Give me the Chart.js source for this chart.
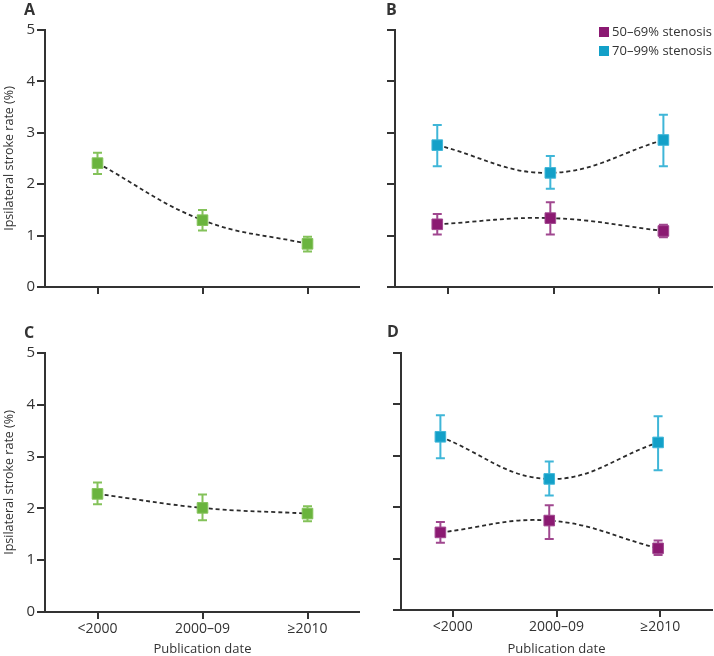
<!DOCTYPE html>
<html lang="en">
<head>
    <meta charset="UTF-8">
    <title>Ipsilateral stroke rate by publication date</title>
    <style>
        body { margin: 0; background: #fff; }
        #wrap { position: relative; width: 714px; height: 656px; font-family: "Open Sans", sans-serif; color: #333; }
        canvas { position: absolute; }
        .letter { position: absolute; font-weight: bold; font-size: 16px; line-height: 16px; }
        .legend { position: absolute; right: 2px; top: 22px; font-size: 13px; line-height: 19px; white-space: nowrap; }
        .legend span { display: inline-block; width: 10px; height: 10px; margin-right: 3px; vertical-align: -1px; }
    </style>
</head>
<body>
<div id="wrap">
    <canvas id="chartA" width="360" height="320" style="left:0;top:0"></canvas>
    <canvas id="chartB" width="354" height="320" style="left:360px;top:0"></canvas>
    <canvas id="chartC" width="360" height="336" style="left:0;top:320px"></canvas>
    <canvas id="chartD" width="354" height="336" style="left:360px;top:320px"></canvas>
    <div class="letter" style="left:24px;top:1px">A</div>
    <div class="letter" style="left:386px;top:1px">B</div>
    <div class="letter" style="left:24px;top:324px">C</div>
    <div class="letter" style="left:387px;top:323px">D</div>
    <div class="legend">
        <div><span style="background:#8b1a72"></span>50–69% stenosis</div>
        <div><span style="background:#13a0c8"></span>70–99% stenosis</div>
    </div>
</div>

<script src="https://cdn.jsdelivr.net/npm/chart.js"></script>
<script>
    // categorias y valores
    const periodos = ['<2000', '2000–09', '≥2010'];

    // A: todos los pacientes
    const tasaA = [2.41, 1.30, 0.84];
    const bajoA = [2.20, 1.10, 0.69];
    const altoA = [2.61, 1.50, 0.98];

    // B: 50-69% y 70-99%
    const xB = [-0.1, 0.97, 2.04];
    const moderadaB = [1.22, 1.34, 1.09];
    const moderadaBajoB = [1.02, 1.02, 0.97];
    const moderadaAltoB = [1.42, 1.65, 1.21];
    const severaB = [2.76, 2.22, 2.86];
    const severaBajoB = [2.35, 1.91, 2.35];
    const severaAltoB = [3.15, 2.55, 3.35];

    // C
    const tasaC = [2.28, 2.01, 1.90];
    const bajoC = [2.08, 1.77, 1.75];
    const altoC = [2.50, 2.27, 2.04];

    // D
    const xD = [-0.12, 0.93, 1.98];
    const moderadaD = [1.51, 1.74, 1.20];
    const moderadaBajoD = [1.31, 1.38, 1.07];
    const moderadaAltoD = [1.71, 2.04, 1.35];
    const severaD = [3.37, 2.55, 3.26];
    const severaBajoD = [2.95, 2.23, 2.72];
    const severaAltoD = [3.79, 2.89, 3.77];

    const verde = '#6ab43e', verdeClaro = '#84c25a';
    const morado = '#8b1a72', moradoClaro = '#a0478f';
    const azul = '#13a0c8', azulClaro = '#3fb6d8';
    const gris = '#333';

    function serie(xs, ys, lo, hi, color, claro) {
        return {
            data: ys.map((y, i) => ({ x: xs[i], y: y })),
            lo: lo, hi: hi, barColor: claro,
            showLine: true,
            tension: 0.4,
            borderColor: '#2b2b2b',
            borderWidth: 1.8,
            borderDash: [4, 3],
            pointStyle: 'rect',
            pointRadius: 7.5,
            pointBackgroundColor: color,
            pointBorderColor: claro,
            pointBorderWidth: 1
        };
    }

    // barras de error dibujadas con las escalas del grafico
    const barrasError = {
        id: 'barrasError',
        beforeDatasetsDraw(chart) {
            const c = chart.ctx;
            const sx = chart.scales.x, sy = chart.scales.y;
            chart.data.datasets.forEach(ds => {
                c.save();
                c.strokeStyle = ds.barColor;
                c.lineWidth = 2;
                ds.data.forEach((p, i) => {
                    const px = sx.getPixelForValue(p.x);
                    const y1 = sy.getPixelForValue(ds.lo[i]);
                    const y2 = sy.getPixelForValue(ds.hi[i]);
                    c.beginPath();
                    c.moveTo(px, y1); c.lineTo(px, y2);
                    c.moveTo(px - 4.5, y1); c.lineTo(px + 4.5, y1);
                    c.moveTo(px - 4.5, y2); c.lineTo(px + 4.5, y2);
                    c.stroke();
                });
                c.restore();
            });
        }
    };

    function panel(id, datasets, o) {
        const ctx = document.getElementById(id).getContext('2d');
        return new Chart(ctx, {
            type: 'line',
            data: { datasets: datasets },
            options: {
                responsive: false,
                animation: false,
                devicePixelRatio: 1,
                layout: { autoPadding: false, padding: { top: o.top, right: o.right, left: 0, bottom: 0 } },
                plugins: { legend: { display: false }, tooltip: { enabled: false } },
                scales: {
                    x: {
                        type: 'linear', min: -0.5, max: 2.5,
                        afterBuildTicks: ax => { ax.ticks = periodos.map((p, i) => ({ value: i })); },
                        ticks: {
                            display: o.etiquetasX, callback: v => periodos[v],
                            color: gris, font: { family: 'Open Sans', size: 14 }, padding: 2,
                            maxRotation: 0, autoSkip: false
                        },
                        grid: { drawOnChartArea: false, tickLength: 7, color: gris, lineWidth: 2 },
                        border: { color: gris, width: 2 },
                        title: {
                            display: o.etiquetasX, text: 'Publication date', color: gris,
                            font: { family: 'Open Sans', size: 13, lineHeight: 1 }, padding: { top: 0, bottom: 0 }
                        },
                        afterFit: s => { s.height = o.altoX; }
                    },
                    y: {
                        min: 0, max: 5,
                        ticks: {
                            display: o.etiquetasY, stepSize: 1, color: gris,
                            font: { family: 'Open Sans', size: 15 }, padding: 2
                        },
                        grid: { drawOnChartArea: false, tickLength: 8, color: gris, lineWidth: 2 },
                        border: { color: gris, width: 2 },
                        title: {
                            display: o.etiquetasY, text: 'Ipsilateral stroke rate (%)', color: gris,
                            font: { family: 'Open Sans', size: 12.5 }, padding: { top: 2, bottom: 0 }
                        },
                        afterFit: s => { s.width = o.anchoY; }
                    }
                }
            },
            plugins: [barrasError]
        });
    }

    const xCentro = [0, 1, 2];

    panel('chartA', [serie(xCentro, tasaA, bajoA, altoA, verde, verdeClaro)],
        { top: 30, right: 0, altoX: 33, anchoY: 45, etiquetasX: false, etiquetasY: true });

    panel('chartB', [
        serie(xB, severaB, severaBajoB, severaAltoB, azul, azulClaro),
        serie(xB, moderadaB, moderadaBajoB, moderadaAltoB, morado, moradoClaro)
    ], { top: 30, right: 2, altoX: 33, anchoY: 35, etiquetasX: false, etiquetasY: false });

    panel('chartC', [serie(xCentro, tasaC, bajoC, altoC, verde, verdeClaro)],
        { top: 33, right: 0, altoX: 44, anchoY: 45, etiquetasX: true, etiquetasY: true });

    panel('chartD', [
        serie(xD, severaD, severaBajoD, severaAltoD, azul, azulClaro),
        serie(xD, moderadaD, moderadaBajoD, moderadaAltoD, morado, moradoClaro)
    ], { top: 33, right: 2, altoX: 46, anchoY: 41, etiquetasX: true, etiquetasY: false });
</script>
</body>
</html>
